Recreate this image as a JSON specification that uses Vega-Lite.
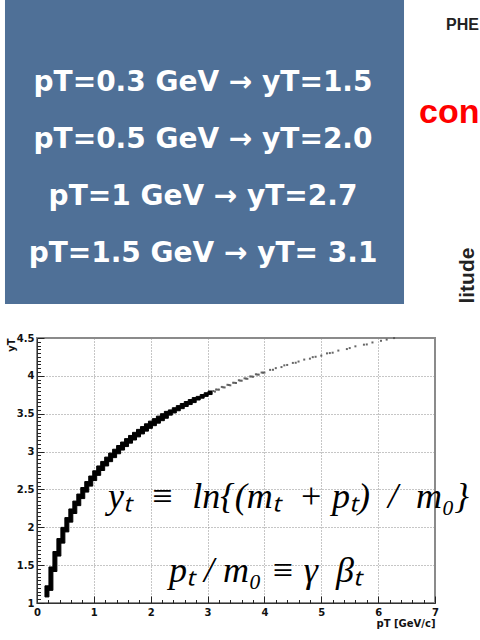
{
  "$schema": "https://vega.github.io/schema/vega-lite/v6.json",
  "background": "#ffffff",
  "padding": {"left": 4, "top": 0, "right": 0, "bottom": 0},
  "autosize": {"type": "pad"},
  "spacing": 28,
  "config": {"axis": {"labelOverlap": false, "labelFlush": false}},
  "vconcat": [
    {
      "width": 444,
      "height": 304,
      "view": {"stroke": null},
      "layer": [
        {
          "data": {"values": [{"box": "slide"}]},
          "mark": {"type": "rect", "color": "#4f7097"},
          "encoding": {
            "x": {"datum": -0.0721, "type": "quantitative", "scale": {"domain": [0, 1], "nice": false, "zero": false}, "axis": null},
            "x2": {"datum": 0.8266},
            "y": {"datum": -0.596, "type": "quantitative", "scale": {"domain": [-0.596, 4.737], "reverse": true, "nice": false, "zero": false}, "axis": null},
            "y2": {"datum": 4.737}
          }
        },
        {
          "data": {"values": [
            {"line": 1, "text": "pT=0.3 GeV → yT=1.5"},
            {"line": 2, "text": "pT=0.5 GeV → yT=2.0"},
            {"line": 3, "text": "pT=1 GeV → yT=2.7"},
            {"line": 4, "text": "pT=1.5 GeV → yT= 3.1"}
          ]},
          "mark": {"type": "text", "font": "DejaVu Sans", "fontWeight": "bold", "fontSize": 28, "color": "#ffffff", "align": "center", "baseline": "alphabetic"},
          "encoding": {
            "x": {"datum": 0.3739, "type": "quantitative"},
            "y": {"field": "line", "type": "quantitative"},
            "text": {"field": "text"}
          }
        },
        {
          "data": {"values": [{"label": "PHE"}]},
          "mark": {"type": "text", "font": "Liberation Sans", "fontWeight": "bold", "fontSize": 16, "color": "#222222", "align": "left", "baseline": "alphabetic"},
          "encoding": {
            "x": {"datum": 0.9212, "type": "quantitative"},
            "y": {"datum": -0.07, "type": "quantitative"},
            "text": {"field": "label"}
          }
        },
        {
          "data": {"values": [{"label": "con"}]},
          "mark": {"type": "text", "font": "Liberation Sans", "fontWeight": "bold", "fontSize": 34, "color": "#ff0000", "align": "left", "baseline": "alphabetic"},
          "encoding": {
            "x": {"datum": 0.8604, "type": "quantitative"},
            "y": {"datum": 1.561, "type": "quantitative"},
            "text": {"field": "label"}
          }
        },
        {
          "data": {"values": [{"label": "litude"}]},
          "mark": {"type": "text", "font": "Liberation Sans", "fontWeight": "bold", "fontSize": 21, "color": "#222222", "align": "left", "baseline": "alphabetic", "angle": 270},
          "encoding": {
            "x": {"datum": 0.9842, "type": "quantitative"},
            "y": {"datum": 4.73, "type": "quantitative"},
            "text": {"field": "label"}
          }
        }
      ]
    },
    {
      "width": 398,
      "height": 265,
      "view": {"stroke": "#8a8a8a", "strokeWidth": 2},
      "resolve": {"axis": {"x": "independent", "y": "independent"}},
      "layer": [
        {
          "data": {"values": [
            {"x0": 0.14, "x1": 0.21, "lo": 1.08, "hi": 1.227},
            {"x0": 0.21, "x1": 0.28, "lo": 1.167, "hi": 1.476},
            {"x0": 0.28, "x1": 0.35, "lo": 1.416, "hi": 1.68},
            {"x0": 0.35, "x1": 0.42, "lo": 1.62, "hi": 1.851},
            {"x0": 0.42, "x1": 0.49, "lo": 1.791, "hi": 1.999},
            {"x0": 0.49, "x1": 0.56, "lo": 1.939, "hi": 2.128},
            {"x0": 0.56, "x1": 0.63, "lo": 2.068, "hi": 2.242},
            {"x0": 0.63, "x1": 0.70, "lo": 2.182, "hi": 2.346},
            {"x0": 0.70, "x1": 0.77, "lo": 2.286, "hi": 2.439},
            {"x0": 0.77, "x1": 0.84, "lo": 2.379, "hi": 2.525},
            {"x0": 0.84, "x1": 0.91, "lo": 2.465, "hi": 2.604},
            {"x0": 0.91, "x1": 0.98, "lo": 2.544, "hi": 2.677},
            {"x0": 0.98, "x1": 1.05, "lo": 2.617, "hi": 2.746},
            {"x0": 1.05, "x1": 1.12, "lo": 2.686, "hi": 2.81},
            {"x0": 1.12, "x1": 1.19, "lo": 2.75, "hi": 2.87},
            {"x0": 1.19, "x1": 1.26, "lo": 2.81, "hi": 2.927},
            {"x0": 1.26, "x1": 1.33, "lo": 2.867, "hi": 2.98},
            {"x0": 1.33, "x1": 1.40, "lo": 2.92, "hi": 3.031},
            {"x0": 1.40, "x1": 1.47, "lo": 2.971, "hi": 3.08},
            {"x0": 1.47, "x1": 1.54, "lo": 3.02, "hi": 3.126},
            {"x0": 1.54, "x1": 1.61, "lo": 3.066, "hi": 3.171},
            {"x0": 1.61, "x1": 1.68, "lo": 3.111, "hi": 3.213},
            {"x0": 1.68, "x1": 1.75, "lo": 3.153, "hi": 3.254},
            {"x0": 1.75, "x1": 1.82, "lo": 3.194, "hi": 3.293},
            {"x0": 1.82, "x1": 1.89, "lo": 3.233, "hi": 3.33},
            {"x0": 1.89, "x1": 1.96, "lo": 3.27, "hi": 3.367},
            {"x0": 1.96, "x1": 2.03, "lo": 3.307, "hi": 3.402},
            {"x0": 2.03, "x1": 2.10, "lo": 3.342, "hi": 3.435},
            {"x0": 2.10, "x1": 2.17, "lo": 3.375, "hi": 3.468},
            {"x0": 2.17, "x1": 2.24, "lo": 3.408, "hi": 3.5},
            {"x0": 2.24, "x1": 2.31, "lo": 3.44, "hi": 3.531},
            {"x0": 2.31, "x1": 2.38, "lo": 3.481, "hi": 3.55},
            {"x0": 2.38, "x1": 2.45, "lo": 3.51, "hi": 3.579},
            {"x0": 2.45, "x1": 2.52, "lo": 3.539, "hi": 3.607},
            {"x0": 2.52, "x1": 2.59, "lo": 3.567, "hi": 3.635},
            {"x0": 2.59, "x1": 2.66, "lo": 3.595, "hi": 3.661},
            {"x0": 2.66, "x1": 2.73, "lo": 3.621, "hi": 3.687},
            {"x0": 2.73, "x1": 2.80, "lo": 3.647, "hi": 3.713},
            {"x0": 2.80, "x1": 2.87, "lo": 3.681, "hi": 3.729},
            {"x0": 2.87, "x1": 2.94, "lo": 3.705, "hi": 3.753},
            {"x0": 2.94, "x1": 3.01, "lo": 3.729, "hi": 3.777},
            {"x0": 3.01, "x1": 3.08, "lo": 3.753, "hi": 3.8}
          ]},
          "mark": {"type": "rect", "color": "#000000", "stroke": "#000000", "strokeWidth": 1},
          "encoding": {
            "x": {
              "field": "x0", "type": "quantitative",
              "scale": {"domain": [0, 7], "nice": false, "zero": false},
              "axis": {
                "orient": "bottom",
                "title": "pT [GeV/c]",
                "values": [0, 1, 2, 3, 4, 5, 6, 7],
                "format": "d",
                "tickSize": -7,
                "tickColor": "#222222",
                "grid": true,
                "gridColor": "#8c8c8c",
                "gridDash": [1, 2],
                "gridWidth": 1,
                "domain": true,
                "domainColor": "#333333",
                "labelFont": "DejaVu Sans",
                "labelFontWeight": "bold",
                "labelFontSize": 10,
                "labelColor": "#111111",
                "labelPadding": 11,
                "labelFlush": false,
                "labelOverlap": false,
                "titleFont": "DejaVu Sans",
                "titleFontWeight": "bold",
                "titleFontSize": 10,
                "titleColor": "#111111",
                "titleAnchor": "end",
                "titlePadding": 1
              }
            },
            "x2": {"field": "x1"},
            "y": {
              "field": "lo", "type": "quantitative",
              "scale": {"domain": [1, 4.5], "nice": false, "zero": false},
              "axis": {
                "orient": "left",
                "title": "yT",
                "values": [1, 1.5, 2, 2.5, 3, 3.5, 4, 4.5],
                "format": "~g",
                "tickSize": -7,
                "tickColor": "#222222",
                "grid": true,
                "gridColor": "#8c8c8c",
                "gridDash": [1, 2],
                "gridWidth": 1,
                "domain": true,
                "domainColor": "#333333",
                "labelFont": "DejaVu Sans",
                "labelFontWeight": "bold",
                "labelFontSize": 10,
                "labelColor": "#111111",
                "labelPadding": 10,
                "labelFlush": false,
                "labelOverlap": false,
                "titleFont": "DejaVu Sans",
                "titleFontWeight": "bold",
                "titleFontSize": 10,
                "titleColor": "#111111",
                "titleAnchor": "end",
                "titlePadding": 0
              }
            },
            "y2": {"field": "hi"}
          }
        },
        {
          "data": {"values": [
            {"pt": 3.10, "yt": 3.800}, {"pt": 3.13, "yt": 3.792}, {"pt": 3.15, "yt": 3.820}, {"pt": 3.175, "yt": 3.818},
            {"pt": 3.20, "yt": 3.818}, {"pt": 3.25, "yt": 3.854}, {"pt": 3.275, "yt": 3.849}, {"pt": 3.30, "yt": 3.847},
            {"pt": 3.35, "yt": 3.882}, {"pt": 3.375, "yt": 3.879}, {"pt": 3.40, "yt": 3.875}, {"pt": 3.45, "yt": 3.909},
            {"pt": 3.475, "yt": 3.908}, {"pt": 3.50, "yt": 3.906}, {"pt": 3.55, "yt": 3.942}, {"pt": 3.575, "yt": 3.937},
            {"pt": 3.60, "yt": 3.936}, {"pt": 3.65, "yt": 3.967}, {"pt": 3.675, "yt": 3.964}, {"pt": 3.70, "yt": 3.961},
            {"pt": 3.75, "yt": 3.992}, {"pt": 3.775, "yt": 3.991}, {"pt": 3.80, "yt": 3.988}, {"pt": 3.85, "yt": 4.021},
            {"pt": 3.875, "yt": 4.017}, {"pt": 3.90, "yt": 4.016}, {"pt": 3.95, "yt": 4.044}, {"pt": 3.975, "yt": 4.042},
            {"pt": 4.00, "yt": 4.043}, {"pt": 4.10, "yt": 4.079}, {"pt": 4.15, "yt": 4.080}, {"pt": 4.20, "yt": 4.102},
            {"pt": 4.30, "yt": 4.116}, {"pt": 4.35, "yt": 4.139}, {"pt": 4.40, "yt": 4.144}, {"pt": 4.50, "yt": 4.171},
            {"pt": 4.55, "yt": 4.173}, {"pt": 4.60, "yt": 4.189}, {"pt": 4.70, "yt": 4.215}, {"pt": 4.80, "yt": 4.227},
            {"pt": 4.85, "yt": 4.247}, {"pt": 4.90, "yt": 4.252}, {"pt": 5.00, "yt": 4.267}, {"pt": 5.10, "yt": 4.297},
            {"pt": 5.15, "yt": 4.301}, {"pt": 5.20, "yt": 4.306}, {"pt": 5.30, "yt": 4.334}, {"pt": 5.45, "yt": 4.354},
            {"pt": 5.50, "yt": 4.367}, {"pt": 5.60, "yt": 4.390}, {"pt": 5.75, "yt": 4.412}, {"pt": 5.80, "yt": 4.415},
            {"pt": 5.90, "yt": 4.441}, {"pt": 6.05, "yt": 4.463}, {"pt": 6.15, "yt": 4.479}, {"pt": 6.28, "yt": 4.499}
          ]},
          "mark": {"type": "point", "shape": "square", "filled": true, "size": 4, "color": "#555555", "opacity": 0.9},
          "encoding": {
            "x": {
              "field": "pt", "type": "quantitative",
              "axis": {
                "orient": "bottom",
                "title": null,
                "values": [0.2,0.4,0.6,0.8,1.2,1.4,1.6,1.8,2.2,2.4,2.6,2.8,3.2,3.4,3.6,3.8,4.2,4.4,4.6,4.8,5.2,5.4,5.6,5.8,6.2,6.4,6.6,6.8],
                "labels": false,
                "grid": false,
                "domain": false,
                "tickSize": -3.5,
                "tickColor": "#222222"
              }
            },
            "y": {
              "field": "yt", "type": "quantitative",
              "axis": {
                "orient": "left",
                "title": null,
                "values": [1.05,1.1,1.15,1.2,1.25,1.3,1.35,1.4,1.45,1.55,1.6,1.65,1.7,1.75,1.8,1.85,1.9,1.95,2.05,2.1,2.15,2.2,2.25,2.3,2.35,2.4,2.45,2.55,2.6,2.65,2.7,2.75,2.8,2.85,2.9,2.95,3.05,3.1,3.15,3.2,3.25,3.3,3.35,3.4,3.45,3.55,3.6,3.65,3.7,3.75,3.8,3.85,3.9,3.95,4.05,4.1,4.15,4.2,4.25,4.3,4.35,4.4,4.45],
                "labels": false,
                "grid": false,
                "domain": false,
                "tickSize": -3.5,
                "tickColor": "#222222"
              }
            }
          }
        },
        {
          "data": {"values": [{"f": "yₜ\u2002≡\u2002ln{(mₜ\u2002+ pₜ)\u2002/\u2002m₀}"}]},
          "mark": {"type": "text", "font": "Liberation Serif", "fontStyle": "italic", "fontSize": 36, "color": "#000000", "align": "left", "baseline": "alphabetic"},
          "encoding": {
            "x": {"datum": 1.25, "type": "quantitative", "axis": null},
            "y": {"datum": 2.25, "type": "quantitative", "axis": null},
            "text": {"field": "f"}
          }
        },
        {
          "data": {"values": [{"f": "pₜ / m₀ ≡ γ\u2002βₜ"}]},
          "mark": {"type": "text", "font": "Liberation Serif", "fontStyle": "italic", "fontSize": 36, "color": "#000000", "align": "left", "baseline": "alphabetic"},
          "encoding": {
            "x": {"datum": 2.32, "type": "quantitative", "axis": null},
            "y": {"datum": 1.28, "type": "quantitative", "axis": null},
            "text": {"field": "f"}
          }
        }
      ]
    }
  ]
}
